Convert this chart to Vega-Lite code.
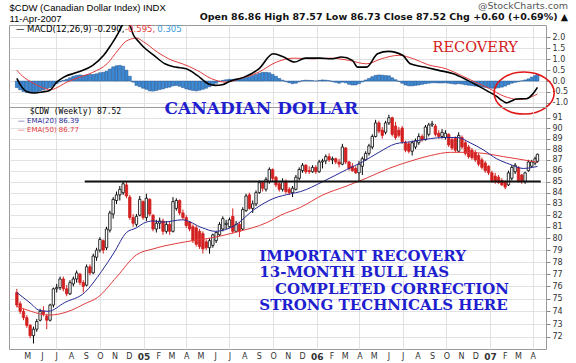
{
  "$schema": "https://vega.github.io/schema/vega-lite/v6.json",
  "background": "white",
  "padding": {"left": 8, "top": 0, "right": 0, "bottom": 0},
  "config": {
    "font": "DejaVu Sans",
    "locale": {"number": {"decimal": ".", "thousands": ",", "grouping": [3], "currency": ["$", ""], "minus": "-"}},
    "view": {"stroke": "#9a9a9a", "strokeWidth": 1},
    "axis": {"labelFont": "DejaVu Sans", "labelFontSize": 8, "labelColor": "#333", "tickColor": "#888", "tickSize": 4, "gridColor": "#dadada", "gridWidth": 0.8, "domain": false, "labelPadding": 2, "labelOverlap": false, "labelFlush": false, "labelBound": false}
  },
  "title": {
    "text": "@StockCharts.com",
    "subtitle": "Open 86.86 High 87.57 Low 86.73 Close 87.52 Chg +0.60 (+0.69%) ▲",
    "anchor": "end", "frame": "bounds", "offset": -20,
    "font": "DejaVu Sans", "fontSize": 9.5, "fontWeight": "normal", "color": "#555",
    "subtitleFont": "DejaVu Sans", "subtitleFontSize": 9.5, "subtitleFontWeight": "bold", "subtitleColor": "#111", "subtitlePadding": 2
  },
  "datasets": {
    "weekly": [
      {"d":"2004-04-09","o":75.5,"h":75.8,"l":74.3,"c":74.5,"mh":-0.30},
      {"d":"2004-04-16","o":74.6,"h":74.8,"l":73.8,"c":74.0,"mh":-0.40},
      {"d":"2004-04-23","o":74.0,"h":74.2,"l":73.3,"c":73.5,"mh":-0.48},
      {"d":"2004-04-30","o":73.5,"h":73.7,"l":72.7,"c":72.9,"mh":-0.53},
      {"d":"2004-05-07","o":72.9,"h":73.0,"l":71.9,"c":72.1,"mh":-0.55},
      {"d":"2004-05-14","o":72.1,"h":72.8,"l":71.5,"c":72.6,"mh":-0.55},
      {"d":"2004-05-21","o":72.6,"h":73.4,"l":72.4,"c":73.2,"mh":-0.52},
      {"d":"2004-05-28","o":73.3,"h":74.2,"l":73.2,"c":74.0,"mh":-0.45},
      {"d":"2004-06-04","o":74.0,"h":74.4,"l":73.6,"c":73.8,"mh":-0.40},
      {"d":"2004-06-11","o":73.6,"h":73.8,"l":72.6,"c":73.3,"mh":-0.35},
      {"d":"2004-06-18","o":73.3,"h":74.6,"l":73.2,"c":74.5,"mh":-0.30},
      {"d":"2004-06-25","o":74.5,"h":75.9,"l":74.3,"c":75.8,"mh":-0.22},
      {"d":"2004-07-02","o":75.8,"h":76.2,"l":75.5,"c":75.9,"mh":-0.12},
      {"d":"2004-07-09","o":75.9,"h":76.8,"l":75.7,"c":76.6,"mh":-0.04},
      {"d":"2004-07-16","o":76.6,"h":76.8,"l":75.6,"c":75.8,"mh":0.03},
      {"d":"2004-07-23","o":75.8,"h":76.1,"l":75.2,"c":75.4,"mh":0.08},
      {"d":"2004-07-30","o":75.4,"h":76.5,"l":75.3,"c":76.3,"mh":0.15},
      {"d":"2004-08-06","o":76.2,"h":76.8,"l":76.0,"c":76.6,"mh":0.22},
      {"d":"2004-08-13","o":76.6,"h":77.3,"l":76.3,"c":77.1,"mh":0.26},
      {"d":"2004-08-20","o":77.0,"h":77.1,"l":76.1,"c":76.3,"mh":0.28},
      {"d":"2004-08-27","o":76.3,"h":76.5,"l":75.5,"c":76.0,"mh":0.26},
      {"d":"2004-09-03","o":76.1,"h":77.8,"l":76.0,"c":77.6,"mh":0.28},
      {"d":"2004-09-10","o":77.6,"h":77.8,"l":76.9,"c":77.1,"mh":0.30},
      {"d":"2004-09-17","o":77.1,"h":78.7,"l":77.0,"c":78.5,"mh":0.30},
      {"d":"2004-09-24","o":78.4,"h":79.2,"l":78.1,"c":79.0,"mh":0.33},
      {"d":"2004-10-01","o":79.0,"h":80.1,"l":78.8,"c":79.9,"mh":0.38},
      {"d":"2004-10-08","o":79.8,"h":79.9,"l":78.7,"c":79.0,"mh":0.40},
      {"d":"2004-10-15","o":79.2,"h":81.0,"l":79.0,"c":80.8,"mh":0.45},
      {"d":"2004-10-22","o":80.7,"h":82.4,"l":80.5,"c":82.2,"mh":0.55},
      {"d":"2004-10-29","o":82.1,"h":83.6,"l":81.7,"c":83.4,"mh":0.65},
      {"d":"2004-11-05","o":83.3,"h":84.1,"l":83.0,"c":83.8,"mh":0.70},
      {"d":"2004-11-12","o":83.8,"h":84.6,"l":83.3,"c":84.3,"mh":0.72},
      {"d":"2004-11-19","o":84.0,"h":85.0,"l":83.8,"c":84.8,"mh":0.68},
      {"d":"2004-11-26","o":84.7,"h":85.0,"l":83.5,"c":83.7,"mh":0.50},
      {"d":"2004-12-03","o":83.6,"h":83.8,"l":81.6,"c":81.8,"mh":0.22},
      {"d":"2004-12-10","o":81.8,"h":82.1,"l":81.0,"c":81.3,"mh":-0.05},
      {"d":"2004-12-17","o":81.2,"h":82.1,"l":81.0,"c":81.9,"mh":-0.20},
      {"d":"2004-12-24","o":82.0,"h":83.7,"l":81.9,"c":83.4,"mh":-0.26},
      {"d":"2004-12-31","o":83.2,"h":83.3,"l":81.6,"c":81.8,"mh":-0.33},
      {"d":"2005-01-07","o":81.8,"h":83.9,"l":81.5,"c":83.5,"mh":-0.38},
      {"d":"2005-01-14","o":83.4,"h":83.5,"l":81.9,"c":82.1,"mh":-0.45},
      {"d":"2005-01-21","o":82.0,"h":82.1,"l":80.6,"c":80.8,"mh":-0.46},
      {"d":"2005-01-28","o":80.8,"h":81.6,"l":80.5,"c":81.3,"mh":-0.43},
      {"d":"2005-02-04","o":81.3,"h":81.8,"l":80.8,"c":81.5,"mh":-0.39},
      {"d":"2005-02-11","o":81.5,"h":81.7,"l":80.3,"c":80.6,"mh":-0.36},
      {"d":"2005-02-18","o":80.6,"h":81.5,"l":80.4,"c":81.2,"mh":-0.31},
      {"d":"2005-02-25","o":81.2,"h":81.4,"l":80.3,"c":80.6,"mh":-0.28},
      {"d":"2005-03-04","o":80.6,"h":83.6,"l":80.5,"c":83.2,"mh":-0.22},
      {"d":"2005-03-11","o":82.6,"h":83.5,"l":82.4,"c":83.3,"mh":-0.20},
      {"d":"2005-03-18","o":83.3,"h":83.4,"l":82.0,"c":82.2,"mh":-0.24},
      {"d":"2005-03-25","o":82.2,"h":82.5,"l":81.6,"c":81.8,"mh":-0.30},
      {"d":"2005-04-01","o":81.8,"h":82.0,"l":80.9,"c":81.1,"mh":-0.36},
      {"d":"2005-04-08","o":81.4,"h":81.5,"l":80.6,"c":80.8,"mh":-0.40},
      {"d":"2005-04-15","o":81.0,"h":81.2,"l":79.6,"c":79.8,"mh":-0.43},
      {"d":"2005-04-22","o":80.9,"h":81.1,"l":79.3,"c":79.5,"mh":-0.45},
      {"d":"2005-04-29","o":80.6,"h":80.8,"l":79.1,"c":79.3,"mh":-0.42},
      {"d":"2005-05-06","o":80.4,"h":80.6,"l":78.7,"c":79.1,"mh":-0.38},
      {"d":"2005-05-13","o":79.7,"h":79.9,"l":79.0,"c":79.2,"mh":-0.33},
      {"d":"2005-05-20","o":79.2,"h":80.0,"l":78.7,"c":79.8,"mh":-0.26},
      {"d":"2005-05-27","o":79.4,"h":80.4,"l":79.2,"c":80.3,"mh":-0.18},
      {"d":"2005-06-03","o":79.8,"h":80.6,"l":79.6,"c":80.5,"mh":-0.10},
      {"d":"2005-06-10","o":80.3,"h":81.4,"l":80.2,"c":81.2,"mh":-0.03},
      {"d":"2005-06-17","o":80.8,"h":81.9,"l":80.6,"c":81.7,"mh":0.03},
      {"d":"2005-06-24","o":81.2,"h":81.6,"l":80.8,"c":81.3,"mh":0.06},
      {"d":"2005-07-01","o":81.0,"h":81.8,"l":80.9,"c":81.6,"mh":0.08},
      {"d":"2005-07-08","o":81.9,"h":82.6,"l":80.4,"c":80.6,"mh":0.08},
      {"d":"2005-07-15","o":80.6,"h":81.5,"l":80.5,"c":81.2,"mh":0.10},
      {"d":"2005-07-22","o":81.2,"h":81.4,"l":80.1,"c":80.6,"mh":0.10},
      {"d":"2005-07-29","o":80.8,"h":82.7,"l":80.7,"c":82.5,"mh":0.12},
      {"d":"2005-08-05","o":82.4,"h":83.9,"l":82.3,"c":83.7,"mh":0.16},
      {"d":"2005-08-12","o":83.8,"h":84.0,"l":82.5,"c":82.6,"mh":0.20},
      {"d":"2005-08-19","o":82.6,"h":83.3,"l":82.2,"c":83.0,"mh":0.25},
      {"d":"2005-08-26","o":83.0,"h":84.2,"l":82.8,"c":84.0,"mh":0.30},
      {"d":"2005-09-02","o":84.0,"h":85.1,"l":83.9,"c":84.9,"mh":0.36},
      {"d":"2005-09-09","o":84.9,"h":85.0,"l":84.1,"c":84.4,"mh":0.40},
      {"d":"2005-09-16","o":84.3,"h":85.4,"l":84.1,"c":85.2,"mh":0.40},
      {"d":"2005-09-23","o":85.0,"h":86.3,"l":84.8,"c":86.1,"mh":0.38},
      {"d":"2005-09-30","o":86.1,"h":86.2,"l":85.0,"c":85.3,"mh":0.30},
      {"d":"2005-10-07","o":85.4,"h":85.5,"l":84.5,"c":84.7,"mh":0.22},
      {"d":"2005-10-14","o":84.8,"h":85.0,"l":84.1,"c":84.3,"mh":0.12},
      {"d":"2005-10-21","o":84.3,"h":85.3,"l":84.1,"c":85.0,"mh":0.04},
      {"d":"2005-10-28","o":85.0,"h":85.2,"l":83.9,"c":84.1,"mh":-0.03},
      {"d":"2005-11-04","o":84.3,"h":84.5,"l":83.8,"c":84.0,"mh":-0.08},
      {"d":"2005-11-11","o":84.0,"h":84.6,"l":83.6,"c":84.4,"mh":-0.12},
      {"d":"2005-11-18","o":84.3,"h":85.6,"l":84.2,"c":85.4,"mh":-0.10},
      {"d":"2005-11-25","o":85.3,"h":86.3,"l":85.1,"c":86.1,"mh":-0.04},
      {"d":"2005-12-02","o":86.0,"h":86.7,"l":85.8,"c":86.5,"mh":0.02},
      {"d":"2005-12-09","o":86.5,"h":86.6,"l":85.7,"c":85.9,"mh":0.04},
      {"d":"2005-12-16","o":86.0,"h":86.4,"l":85.7,"c":85.9,"mh":0.03},
      {"d":"2005-12-23","o":85.9,"h":86.5,"l":85.8,"c":86.3,"mh":0.02},
      {"d":"2005-12-30","o":86.3,"h":86.5,"l":85.7,"c":85.9,"mh":0.00},
      {"d":"2006-01-06","o":85.9,"h":87.0,"l":85.8,"c":86.8,"mh":0.03},
      {"d":"2006-01-13","o":86.8,"h":87.1,"l":86.2,"c":86.9,"mh":0.05},
      {"d":"2006-01-20","o":86.9,"h":87.5,"l":86.6,"c":87.3,"mh":0.04},
      {"d":"2006-01-27","o":87.3,"h":87.6,"l":86.8,"c":87.0,"mh":0.02},
      {"d":"2006-02-03","o":87.0,"h":87.3,"l":86.6,"c":87.1,"mh":-0.03},
      {"d":"2006-02-10","o":87.1,"h":87.2,"l":86.6,"c":86.8,"mh":-0.06},
      {"d":"2006-02-17","o":86.8,"h":87.1,"l":86.3,"c":86.6,"mh":-0.10},
      {"d":"2006-02-24","o":86.6,"h":88.5,"l":86.5,"c":88.2,"mh":-0.05},
      {"d":"2006-03-03","o":88.1,"h":88.2,"l":86.6,"c":86.8,"mh":-0.08},
      {"d":"2006-03-10","o":86.8,"h":86.9,"l":86.0,"c":86.2,"mh":-0.15},
      {"d":"2006-03-17","o":86.4,"h":86.7,"l":85.9,"c":86.0,"mh":-0.18},
      {"d":"2006-03-24","o":86.2,"h":86.4,"l":85.7,"c":85.8,"mh":-0.18},
      {"d":"2006-03-31","o":85.8,"h":86.9,"l":85.0,"c":86.6,"mh":-0.12},
      {"d":"2006-04-07","o":86.4,"h":87.3,"l":85.6,"c":87.1,"mh":-0.04},
      {"d":"2006-04-14","o":87.0,"h":87.8,"l":86.9,"c":87.6,"mh":0.05},
      {"d":"2006-04-21","o":87.6,"h":88.5,"l":87.4,"c":88.3,"mh":0.12},
      {"d":"2006-04-28","o":88.2,"h":89.4,"l":88.0,"c":89.2,"mh":0.20},
      {"d":"2006-05-05","o":89.2,"h":90.8,"l":89.1,"c":90.5,"mh":0.26},
      {"d":"2006-05-12","o":90.5,"h":90.7,"l":89.5,"c":89.7,"mh":0.28},
      {"d":"2006-05-19","o":89.8,"h":90.1,"l":89.0,"c":89.3,"mh":0.27},
      {"d":"2006-05-26","o":89.6,"h":90.7,"l":89.4,"c":90.5,"mh":0.25},
      {"d":"2006-06-02","o":90.5,"h":91.3,"l":90.3,"c":91.0,"mh":0.24},
      {"d":"2006-06-09","o":91.0,"h":91.1,"l":89.2,"c":89.4,"mh":0.15},
      {"d":"2006-06-16","o":90.2,"h":90.6,"l":88.9,"c":89.1,"mh":0.06},
      {"d":"2006-06-23","o":89.8,"h":90.1,"l":89.1,"c":89.3,"mh":-0.02},
      {"d":"2006-06-30","o":90.0,"h":90.2,"l":88.5,"c":88.7,"mh":-0.10},
      {"d":"2006-07-07","o":88.6,"h":88.8,"l":87.7,"c":87.9,"mh":-0.18},
      {"d":"2006-07-14","o":88.5,"h":88.7,"l":87.6,"c":87.8,"mh":-0.22},
      {"d":"2006-07-21","o":87.8,"h":88.8,"l":87.4,"c":88.6,"mh":-0.22},
      {"d":"2006-07-28","o":88.2,"h":89.0,"l":88.0,"c":88.8,"mh":-0.20},
      {"d":"2006-08-04","o":88.6,"h":89.5,"l":88.4,"c":89.2,"mh":-0.18},
      {"d":"2006-08-11","o":89.2,"h":89.4,"l":88.7,"c":88.9,"mh":-0.15},
      {"d":"2006-08-18","o":88.9,"h":90.3,"l":88.8,"c":90.1,"mh":-0.12},
      {"d":"2006-08-25","o":89.4,"h":90.5,"l":89.2,"c":90.3,"mh":-0.10},
      {"d":"2006-09-01","o":90.3,"h":90.7,"l":90.1,"c":90.4,"mh":-0.08},
      {"d":"2006-09-08","o":90.2,"h":90.4,"l":89.2,"c":89.4,"mh":-0.08},
      {"d":"2006-09-15","o":89.5,"h":89.8,"l":89.0,"c":89.2,"mh":-0.09},
      {"d":"2006-09-22","o":89.2,"h":89.9,"l":89.0,"c":89.6,"mh":-0.09},
      {"d":"2006-09-29","o":89.1,"h":89.8,"l":88.9,"c":89.5,"mh":-0.08},
      {"d":"2006-10-06","o":89.4,"h":89.5,"l":88.2,"c":88.4,"mh":-0.10},
      {"d":"2006-10-13","o":88.9,"h":89.1,"l":87.9,"c":88.1,"mh":-0.12},
      {"d":"2006-10-20","o":89.0,"h":89.2,"l":87.7,"c":87.9,"mh":-0.14},
      {"d":"2006-10-27","o":87.8,"h":89.6,"l":87.7,"c":89.3,"mh":-0.12},
      {"d":"2006-11-03","o":89.1,"h":89.3,"l":88.0,"c":88.2,"mh":-0.14},
      {"d":"2006-11-10","o":88.6,"h":88.8,"l":87.4,"c":87.6,"mh":-0.17},
      {"d":"2006-11-17","o":88.2,"h":88.4,"l":87.1,"c":87.3,"mh":-0.19},
      {"d":"2006-11-24","o":87.9,"h":88.1,"l":87.0,"c":87.2,"mh":-0.21},
      {"d":"2006-12-01","o":87.7,"h":87.9,"l":86.8,"c":87.0,"mh":-0.23},
      {"d":"2006-12-08","o":87.4,"h":87.6,"l":86.4,"c":86.6,"mh":-0.25},
      {"d":"2006-12-15","o":87.0,"h":87.2,"l":86.1,"c":86.3,"mh":-0.27},
      {"d":"2006-12-22","o":86.7,"h":86.9,"l":85.8,"c":86.0,"mh":-0.29},
      {"d":"2006-12-29","o":86.4,"h":86.5,"l":85.6,"c":85.8,"mh":-0.31},
      {"d":"2007-01-05","o":85.8,"h":86.0,"l":84.9,"c":85.1,"mh":-0.33},
      {"d":"2007-01-12","o":85.5,"h":85.8,"l":84.8,"c":85.0,"mh":-0.33},
      {"d":"2007-01-19","o":85.4,"h":85.6,"l":84.8,"c":84.9,"mh":-0.31},
      {"d":"2007-01-26","o":85.1,"h":85.3,"l":84.6,"c":84.7,"mh":-0.28},
      {"d":"2007-02-02","o":85.0,"h":85.1,"l":84.3,"c":84.5,"mh":-0.23},
      {"d":"2007-02-09","o":84.7,"h":86.0,"l":84.6,"c":85.8,"mh":-0.16},
      {"d":"2007-02-16","o":85.3,"h":86.5,"l":85.1,"c":86.3,"mh":-0.10},
      {"d":"2007-02-23","o":85.9,"h":86.7,"l":85.7,"c":86.5,"mh":-0.06},
      {"d":"2007-03-02","o":86.3,"h":86.4,"l":84.9,"c":85.1,"mh":-0.03},
      {"d":"2007-03-09","o":85.6,"h":85.7,"l":84.8,"c":85.0,"mh":0.01},
      {"d":"2007-03-16","o":85.0,"h":85.9,"l":84.8,"c":85.8,"mh":0.05},
      {"d":"2007-03-23","o":86.0,"h":87.0,"l":85.9,"c":86.8,"mh":0.10},
      {"d":"2007-03-30","o":86.4,"h":87.0,"l":86.3,"c":86.8,"mh":0.18},
      {"d":"2007-04-06","o":86.7,"h":87.3,"l":86.5,"c":87.1,"mh":0.25},
      {"d":"2007-04-11","o":86.86,"h":87.57,"l":86.73,"c":87.52,"mh":0.305}
    ],
    "ema20": [
      {"d":"2004-04-09","v":75.5},{"d":"2004-05-09","v":74.6},{"d":"2004-05-25","v":74.1},{"d":"2004-06-14","v":74.0},
      {"d":"2004-07-19","v":74.7},{"d":"2004-08-30","v":75.5},{"d":"2004-10-04","v":77.2},{"d":"2004-10-31","v":78.8},
      {"d":"2004-11-26","v":80.5},{"d":"2004-12-17","v":80.9},{"d":"2005-01-01","v":81.3},{"d":"2005-01-21","v":81.5},
      {"d":"2005-02-11","v":81.4},{"d":"2005-03-24","v":81.6},{"d":"2005-05-05","v":80.9},{"d":"2005-06-01","v":80.6},
      {"d":"2005-07-12","v":81.1},{"d":"2005-08-22","v":82.5},{"d":"2005-10-03","v":83.5},{"d":"2005-11-07","v":83.9},
      {"d":"2005-11-28","v":84.1},{"d":"2006-01-14","v":85.0},{"d":"2006-03-05","v":86.1},{"d":"2006-04-07","v":86.8},
      {"d":"2006-05-12","v":87.7},{"d":"2006-06-16","v":88.5},{"d":"2006-07-19","v":88.7},{"d":"2006-08-29","v":89.0},
      {"d":"2006-09-27","v":89.1},{"d":"2006-10-24","v":89.1},{"d":"2006-11-20","v":88.6},{"d":"2006-12-19","v":87.9},
      {"d":"2007-01-15","v":87.1},{"d":"2007-02-11","v":86.6},{"d":"2007-03-12","v":86.2},{"d":"2007-04-01","v":86.3},
      {"d":"2007-04-11","v":86.39}
    ],
    "ema50": [
      {"d":"2004-04-09","v":74.4},{"d":"2004-05-09","v":74.0},{"d":"2004-06-14","v":73.7},{"d":"2004-07-09","v":73.8},
      {"d":"2004-08-03","v":74.1},{"d":"2004-08-30","v":74.6},{"d":"2004-09-26","v":75.1},{"d":"2004-11-06","v":76.8},
      {"d":"2004-12-17","v":78.6},{"d":"2005-01-21","v":79.1},{"d":"2005-03-30","v":79.7},{"d":"2005-06-01","v":80.1},
      {"d":"2005-07-12","v":80.5},{"d":"2005-09-20","v":81.4},{"d":"2005-10-17","v":82.0},{"d":"2005-11-28","v":82.7},
      {"d":"2006-01-14","v":83.8},{"d":"2006-03-05","v":84.6},{"d":"2006-04-15","v":85.3},{"d":"2006-06-02","v":86.2},
      {"d":"2006-07-19","v":86.9},{"d":"2006-08-29","v":87.4},{"d":"2006-10-10","v":87.7},{"d":"2006-11-08","v":87.7},
      {"d":"2006-12-19","v":87.6},{"d":"2007-01-29","v":87.3},{"d":"2007-03-12","v":87.0},{"d":"2007-04-11","v":86.77}
    ],
    "macd": [
      {"d":"2004-04-09","v":0.12},{"d":"2004-04-17","v":-0.2},{"d":"2004-05-02","v":-0.5},{"d":"2004-05-17","v":-0.55},
      {"d":"2004-06-01","v":-0.5},{"d":"2004-06-17","v":-0.43},{"d":"2004-07-02","v":-0.05},{"d":"2004-07-17","v":0.18},
      {"d":"2004-08-16","v":0.41},{"d":"2004-09-16","v":0.72},{"d":"2004-10-09","v":1.18},{"d":"2004-10-24","v":1.64},
      {"d":"2004-11-08","v":2.17},{"d":"2004-11-15","v":2.48},{"d":"2004-11-24","v":2.7},{"d":"2004-12-03","v":2.55},
      {"d":"2004-12-11","v":2.1},{"d":"2004-12-22","v":1.8},{"d":"2005-01-01","v":1.56},{"d":"2005-01-23","v":1.18},
      {"d":"2005-02-15","v":0.79},{"d":"2005-03-09","v":0.64},{"d":"2005-04-01","v":0.56},{"d":"2005-04-24","v":0.26},
      {"d":"2005-05-17","v":-0.12},{"d":"2005-06-01","v":-0.2},{"d":"2005-06-16","v":-0.17},{"d":"2005-07-02","v":-0.01},
      {"d":"2005-08-01","v":0.18},{"d":"2005-09-01","v":0.56},{"d":"2005-10-01","v":1.25},{"d":"2005-10-23","v":1.1},
      {"d":"2005-11-15","v":0.87},{"d":"2005-12-08","v":1.05},{"d":"2006-01-08","v":1.05},{"d":"2006-01-31","v":1.02},
      {"d":"2006-02-22","v":1.1},{"d":"2006-03-17","v":0.95},{"d":"2006-03-28","v":0.64},{"d":"2006-04-16","v":0.64},
      {"d":"2006-05-09","v":1.25},{"d":"2006-06-01","v":1.36},{"d":"2006-07-01","v":1.18},{"d":"2006-07-17","v":0.79},
      {"d":"2006-08-16","v":0.64},{"d":"2006-09-15","v":0.49},{"d":"2006-10-16","v":0.34},{"d":"2006-11-15","v":0.03},
      {"d":"2006-12-05","v":-0.2},{"d":"2006-12-26","v":-0.45},{"d":"2007-01-15","v":-0.7},{"d":"2007-01-27","v":-0.9},
      {"d":"2007-02-05","v":-1.0},{"d":"2007-02-15","v":-0.92},{"d":"2007-02-26","v":-0.82},{"d":"2007-03-19","v":-0.81},
      {"d":"2007-04-01","v":-0.6},{"d":"2007-04-11","v":-0.29}
    ],
    "signal": [
      {"d":"2004-04-09","v":0.5},{"d":"2004-04-17","v":0.3},{"d":"2004-05-02","v":0.05},{"d":"2004-05-18","v":-0.15},
      {"d":"2004-06-02","v":-0.3},{"d":"2004-06-19","v":-0.4},{"d":"2004-07-03","v":-0.3},{"d":"2004-07-17","v":-0.12},
      {"d":"2004-08-16","v":0.15},{"d":"2004-09-16","v":0.4},{"d":"2004-10-16","v":0.79},{"d":"2004-11-08","v":1.41},
      {"d":"2004-11-23","v":1.79},{"d":"2004-12-08","v":1.94},{"d":"2004-12-17","v":1.97},{"d":"2005-01-01","v":1.8},
      {"d":"2005-01-30","v":1.33},{"d":"2005-03-02","v":0.95},{"d":"2005-03-24","v":0.79},{"d":"2005-04-24","v":0.49},
      {"d":"2005-05-24","v":0.11},{"d":"2005-06-24","v":-0.05},{"d":"2005-07-24","v":0.11},{"d":"2005-09-01","v":0.41},
      {"d":"2005-10-08","v":0.87},{"d":"2005-11-15","v":1.05},{"d":"2005-12-23","v":1.02},{"d":"2006-01-31","v":1.05},
      {"d":"2006-03-09","v":0.95},{"d":"2006-04-16","v":0.79},{"d":"2006-05-17","v":1.02},{"d":"2006-06-23","v":1.18},
      {"d":"2006-07-24","v":1.02},{"d":"2006-08-23","v":0.75},{"d":"2006-10-01","v":0.56},{"d":"2006-11-01","v":0.26},
      {"d":"2006-12-01","v":-0.05},{"d":"2006-12-31","v":-0.35},{"d":"2007-01-30","v":-0.69},{"d":"2007-02-15","v":-0.8},
      {"d":"2007-03-01","v":-0.85},{"d":"2007-03-19","v":-0.8},{"d":"2007-04-11","v":-0.595}
    ]
  },
  "vconcat": [
    {
      "width": 537,
      "height": 82,
      "layer": [
        {
          "data": {"name": "weekly"},
          "mark": {"type": "bar", "size": 3, "fill": "#3d8bd6", "stroke": "#1f4f8a", "strokeWidth": 0.5},
          "encoding": {
            "x": {
              "field": "d", "type": "temporal",
              "scale": {"domain": [{"year": 2004, "month": 4, "date": 3}, {"year": 2007, "month": 4, "date": 18, "hours": 12}]},
              "axis": {
                "orient": "top", "labels": false, "ticks": false, "grid": true, "tickCount": 100,
                "values": [
                  {"year": 2004, "month": 7, "date": 1}, {"year": 2004, "month": 10, "date": 1},
                  {"year": 2005, "month": 1, "date": 1}, {"year": 2005, "month": 4, "date": 1},
                  {"year": 2005, "month": 7, "date": 1}, {"year": 2005, "month": 10, "date": 1},
                  {"year": 2006, "month": 1, "date": 1}, {"year": 2006, "month": 4, "date": 1},
                  {"year": 2006, "month": 7, "date": 1}, {"year": 2006, "month": 10, "date": 1},
                  {"year": 2007, "month": 1, "date": 1}, {"year": 2007, "month": 4, "date": 1}
                ],
                "title": ["$CDW (Canadian Dollar Index) INDX", "11-Apr-2007"],
                "titleAnchor": "start", "titleAlign": "left", "titlePadding": 2,
                "titleFont": "Liberation Sans", "titleFontSize": 9.5, "titleFontWeight": "normal",
                "titleLineHeight": 11, "titleColor": "#000"
              }
            },
            "y": {
              "field": "mh", "type": "quantitative",
              "scale": {"domain": [-1.19, 2.57], "nice": false, "zero": false},
              "axis": {
                "orient": "right", "title": null, "grid": true, "labelOverlap": false, "tickCount": 100,
                "values": [-1, -0.5, 0, 0.5, 1, 1.5, 2],
                "format": ".1f"
              }
            },
            "y2": {"datum": 0}
          }
        },
        {
          "data": {"name": "signal"},
          "mark": {"type": "line", "color": "#e33b3b", "strokeWidth": 1, "interpolate": "monotone", "clip": true},
          "encoding": {"x": {"field": "d", "type": "temporal"}, "y": {"field": "v", "type": "quantitative"}}
        },
        {
          "data": {"name": "macd"},
          "mark": {"type": "line", "color": "#000", "strokeWidth": 1.6, "interpolate": "monotone", "clip": true},
          "encoding": {"x": {"field": "d", "type": "temporal"}, "y": {"field": "v", "type": "quantitative"}}
        },
        {
          "data": {"values": [{}]},
          "mark": {"type": "text", "align": "left", "baseline": "middle", "font": "DejaVu Sans", "fontSize": 8.5, "color": "#000"},
          "encoding": {
            "x": {"datum": {"year": 2004, "month": 4, "date": 7}, "type": "temporal"},
            "y": {"datum": 2.385},
            "text": {"value": "— MACD(12,26,9) -0.290,"}
          }
        },
        {
          "data": {"values": [{}]},
          "mark": {"type": "text", "align": "left", "baseline": "middle", "font": "DejaVu Sans", "fontSize": 8.5, "color": "#e33b3b"},
          "encoding": {
            "x": {"datum": {"year": 2004, "month": 11, "date": 23}, "type": "temporal"},
            "y": {"datum": 2.385},
            "text": {"value": "-0.595,"}
          }
        },
        {
          "data": {"values": [{}]},
          "mark": {"type": "text", "align": "left", "baseline": "middle", "font": "DejaVu Sans", "fontSize": 8.5, "color": "#3a9ad9"},
          "encoding": {
            "x": {"datum": {"year": 2005, "month": 1, "date": 30}, "type": "temporal"},
            "y": {"datum": 2.385},
            "text": {"value": "0.305"}
          }
        },
        {
          "data": {"values": [{}]},
          "mark": {"type": "text", "align": "center", "baseline": "middle", "font": "DejaVu Serif", "fontSize": 14.5, "color": "#d42020"},
          "encoding": {
            "x": {"datum": {"year": 2006, "month": 12, "date": 1}, "type": "temporal"},
            "y": {"datum": 1.53},
            "text": {"value": "RECOVERY"}
          }
        },
        {
          "data": {"values": [{}]},
          "mark": {"type": "point", "shape": "M-1.43,0A1.43,1,0,1,1,1.43,0A1.43,1,0,1,1,-1.43,0Z", "size": 1764, "filled": false, "color": "#e01515", "strokeWidth": 1.6, "opacity": 1},
          "encoding": {
            "x": {"datum": {"year": 2007, "month": 3, "date": 14}, "type": "temporal"},
            "y": {"datum": -0.55}
          }
        }
      ]
    },
    {
      "width": 537,
      "height": 242,
      "layer": [
        {
          "data": {"name": "weekly"},
          "mark": {"type": "rule", "strokeWidth": 1},
          "encoding": {
            "x": {
              "field": "d", "type": "temporal",
              "scale": {"domain": [{"year": 2004, "month": 4, "date": 3}, {"year": 2007, "month": 4, "date": 18, "hours": 12}]},
              "axis": {
                "orient": "bottom", "title": null, "ticks": false, "grid": true, "labelPadding": 3, "labelOverlap": false, "tickCount": 100,
                "values": [
                  {"year": 2004, "month": 5, "date": 1}, {"year": 2004, "month": 6, "date": 1}, {"year": 2004, "month": 7, "date": 1},
                  {"year": 2004, "month": 8, "date": 1}, {"year": 2004, "month": 9, "date": 1}, {"year": 2004, "month": 10, "date": 1},
                  {"year": 2004, "month": 11, "date": 1}, {"year": 2004, "month": 12, "date": 1}, {"year": 2005, "month": 1, "date": 1},
                  {"year": 2005, "month": 2, "date": 1}, {"year": 2005, "month": 3, "date": 1}, {"year": 2005, "month": 4, "date": 1},
                  {"year": 2005, "month": 5, "date": 1}, {"year": 2005, "month": 6, "date": 1}, {"year": 2005, "month": 7, "date": 1},
                  {"year": 2005, "month": 8, "date": 1}, {"year": 2005, "month": 9, "date": 1}, {"year": 2005, "month": 10, "date": 1},
                  {"year": 2005, "month": 11, "date": 1}, {"year": 2005, "month": 12, "date": 1}, {"year": 2006, "month": 1, "date": 1},
                  {"year": 2006, "month": 2, "date": 1}, {"year": 2006, "month": 3, "date": 1}, {"year": 2006, "month": 4, "date": 1},
                  {"year": 2006, "month": 5, "date": 1}, {"year": 2006, "month": 6, "date": 1}, {"year": 2006, "month": 7, "date": 1},
                  {"year": 2006, "month": 8, "date": 1}, {"year": 2006, "month": 9, "date": 1}, {"year": 2006, "month": 10, "date": 1},
                  {"year": 2006, "month": 11, "date": 1}, {"year": 2006, "month": 12, "date": 1}, {"year": 2007, "month": 1, "date": 1},
                  {"year": 2007, "month": 2, "date": 1}, {"year": 2007, "month": 3, "date": 1}, {"year": 2007, "month": 4, "date": 1}
                ],
                "labelExpr": "month(datum.value) == 0 ? timeFormat(datum.value, '%y') : slice(timeFormat(datum.value, '%b'), 0, 1)",
                "labelFontWeight": {"condition": {"test": "month(datum.value) == 0", "value": "bold"}, "value": "normal"},
                "labelFontSize": {"condition": {"test": "month(datum.value) == 0", "value": 9}, "value": 8},
                "gridOpacity": {"condition": {"test": "month(datum.value) % 3 == 0", "value": 1}, "value": 0}
              }
            },
            "y": {
              "field": "l", "type": "quantitative",
              "scale": {"type": "log", "domain": [71.08, 92.05], "nice": false, "zero": false},
              "axis": {
                "orient": "right", "title": null, "grid": true, "format": "d", "labelOverlap": false, "tickCount": 100,
                "values": [72, 73, 74, 75, 76, 77, 78, 79, 80, 81, 82, 83, 84, 85, 86, 87, 88, 89, 90, 91]
              }
            },
            "y2": {"field": "h"},
            "color": {"condition": {"test": "datum.c < datum.o", "value": "#d42020"}, "value": "#000"}
          }
        },
        {
          "data": {"name": "weekly"},
          "mark": {"type": "bar", "size": 2.4, "strokeWidth": 0.8},
          "encoding": {
            "x": {"field": "d", "type": "temporal"},
            "y": {"field": "o", "type": "quantitative"},
            "y2": {"field": "c"},
            "fill": {"condition": {"test": "datum.c < datum.o", "value": "#d42020"}, "value": "#ffffff"},
            "stroke": {"condition": {"test": "datum.c < datum.o", "value": "#d42020"}, "value": "#000"}
          }
        },
        {
          "data": {"name": "ema50"},
          "mark": {"type": "line", "color": "#e33b3b", "strokeWidth": 1, "interpolate": "monotone"},
          "encoding": {"x": {"field": "d", "type": "temporal"}, "y": {"field": "v", "type": "quantitative"}}
        },
        {
          "data": {"name": "ema20"},
          "mark": {"type": "line", "color": "#262a94", "strokeWidth": 1, "interpolate": "monotone"},
          "encoding": {"x": {"field": "d", "type": "temporal"}, "y": {"field": "v", "type": "quantitative"}}
        },
        {
          "data": {"values": [{}]},
          "mark": {"type": "rule", "color": "#111", "strokeWidth": 2},
          "encoding": {
            "x": {"datum": {"year": 2004, "month": 8, "date": 30}, "type": "temporal"},
            "x2": {"datum": {"year": 2007, "month": 4, "date": 18}},
            "y": {"datum": 85}
          }
        },
        {
          "data": {"values": [{}]},
          "mark": {"type": "text", "align": "left", "baseline": "middle", "font": "DejaVu Sans Mono", "fontSize": 8, "color": "#000"},
          "encoding": {
            "x": {"datum": {"year": 2004, "month": 5, "date": 6}, "type": "temporal"},
            "y": {"datum": 91.58},
            "text": {"value": "$CDW (Weekly) 87.52"}
          }
        },
        {
          "data": {"values": [{}]},
          "mark": {"type": "text", "align": "left", "baseline": "middle", "font": "DejaVu Sans", "fontSize": 7, "color": "#262a94"},
          "encoding": {
            "x": {"datum": {"year": 2004, "month": 4, "date": 11}, "type": "temporal"},
            "y": {"datum": 90.65},
            "text": {"value": "— EMA(20) 86.39"}
          }
        },
        {
          "data": {"values": [{}]},
          "mark": {"type": "text", "align": "left", "baseline": "middle", "font": "DejaVu Sans", "fontSize": 7, "color": "#e33b3b"},
          "encoding": {
            "x": {"datum": {"year": 2004, "month": 4, "date": 11}, "type": "temporal"},
            "y": {"datum": 89.82},
            "text": {"value": "— EMA(50) 86.77"}
          }
        },
        {
          "data": {"values": [{}]},
          "mark": {"type": "text", "align": "center", "baseline": "middle", "font": "DejaVu Serif", "fontWeight": "bold", "fontSize": 17, "color": "#1f1fd0"},
          "encoding": {
            "x": {"datum": {"year": 2005, "month": 9, "date": 6}, "type": "temporal"},
            "y": {"datum": 91.85},
            "text": {"value": "CANADIAN DOLLAR"}
          }
        },
        {
          "data": {"values": [{}]},
          "mark": {"type": "text", "align": "left", "baseline": "top", "font": "DejaVu Serif", "fontWeight": "bold", "fontSize": 15, "lineHeight": 16.3, "color": "#1f1fd0"},
          "encoding": {
            "x": {"datum": {"year": 2005, "month": 9, "date": 2}, "type": "temporal"},
            "y": {"datum": 79.1},
            "text": {"value": ["IMPORTANT RECOVERY", "13-MONTH BULL HAS", "\u200b\u00a0\u00a0\u00a0COMPLETED CORRECTION", "STRONG TECHNICALS HERE"]}
          }
        }
      ]
    }
  ],
  "spacing": 0,
  "bounds": "flush",
  "resolve": {"scale": {"x": "independent", "y": "independent"}}
}
